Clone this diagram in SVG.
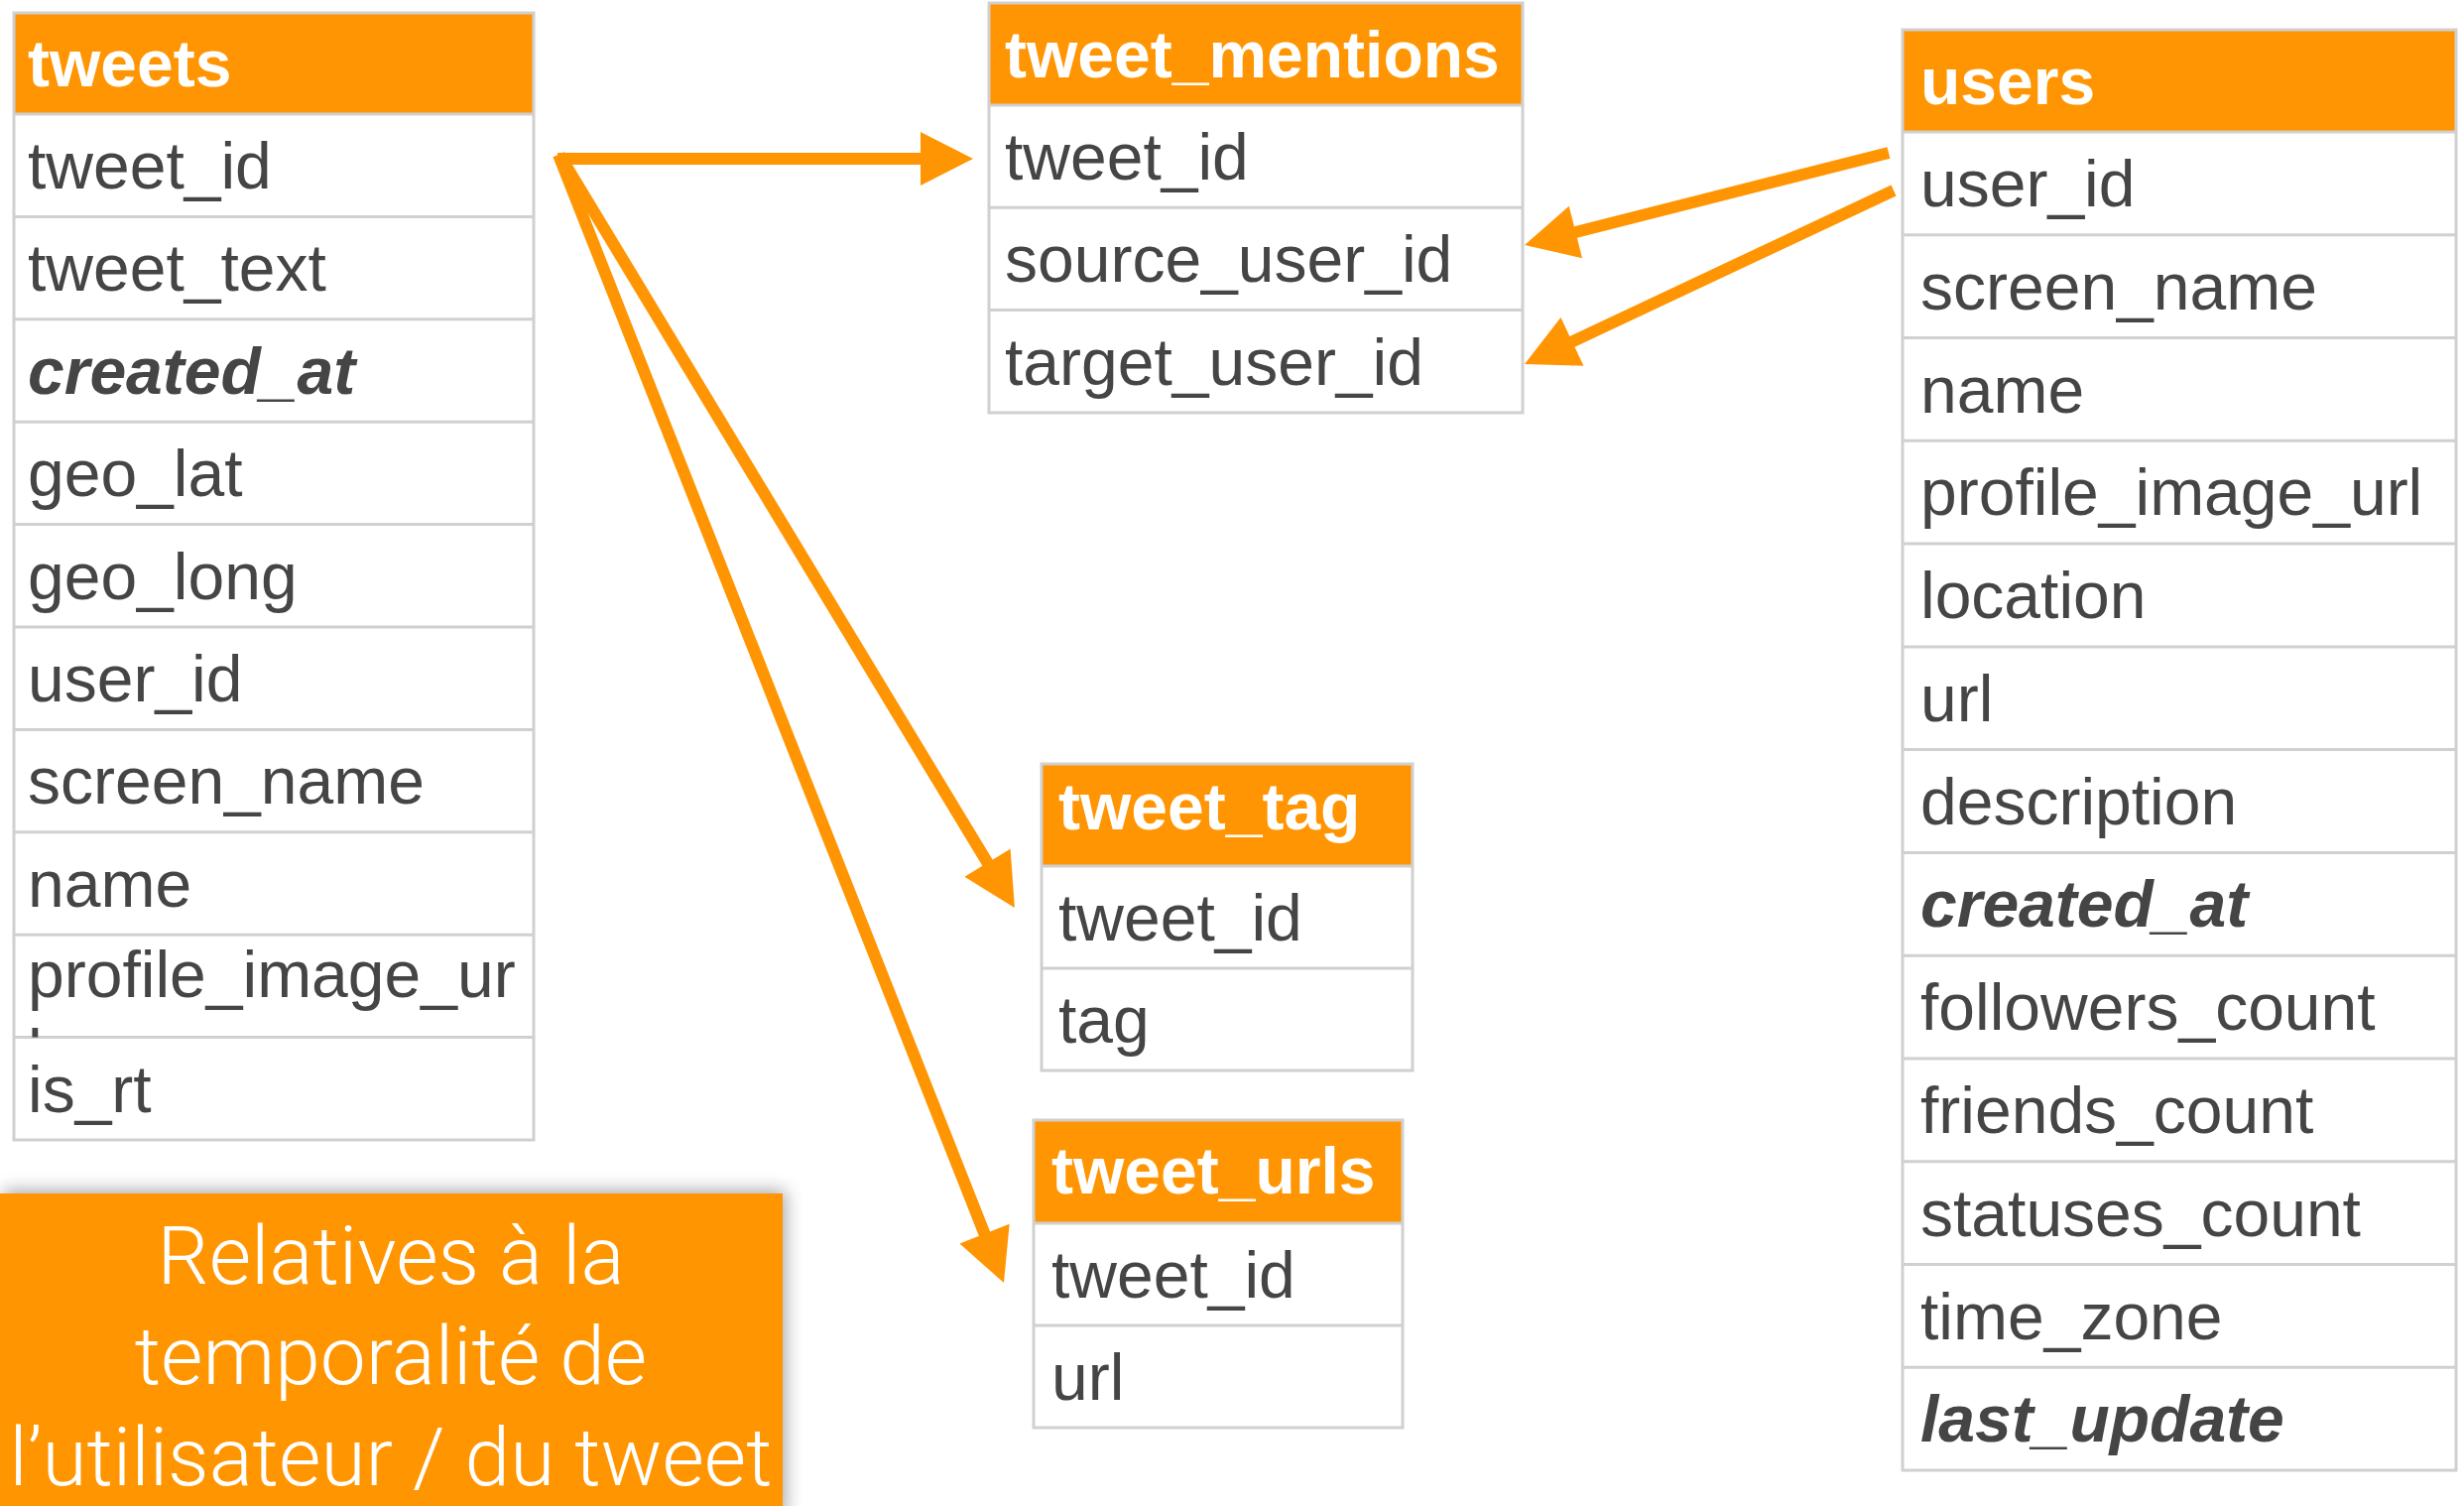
<svg xmlns="http://www.w3.org/2000/svg" width="2484" height="1518" viewBox="0 0 2484 1518">
<style>
.bg{fill:#ffffff}
.frame{fill:none;stroke:#d0d0d0;stroke-width:3}
.hdr{fill:#ff9502}
.sep{stroke:#d0d0d0;stroke-width:3}
.ht{font-family:"Liberation Sans",Arial,sans-serif;font-size:66px;font-weight:bold;fill:#ffffff}
.ft{font-family:"Liberation Sans",Arial,sans-serif;font-size:66px;fill:#454545}
.bi{font-weight:bold;font-style:italic}
.conn{stroke:#ff9502;stroke-width:12;fill:none;marker-end:url(#ah)}
.note{fill:#ff9502}
.nt{font-family:Roboto,"Liberation Sans",Arial,sans-serif;font-weight:300;font-size:82px;fill:#ffffff;text-anchor:middle}
</style>
<defs>
<marker id="ah" markerUnits="userSpaceOnUse" markerWidth="60" markerHeight="60" refX="7" refY="27" orient="auto" overflow="visible">
<path d="M0,0 L53,27 L0,54 Z" fill="#ff9502"/>
</marker>
<filter id="sh" x="-10%" y="-20%" width="120%" height="140%">
<feGaussianBlur in="SourceAlpha" stdDeviation="9"/>
<feOffset dx="3" dy="-3" result="b"/>
<feComponentTransfer><feFuncA type="linear" slope="0.35"/></feComponentTransfer>
<feMerge><feMergeNode/><feMergeNode in="SourceGraphic"/></feMerge>
</filter>
<clipPath id="clipPiu"><rect x="0" y="929" width="524" height="103.4"/></clipPath>
</defs>
<rect class="bg" x="0" y="0" width="2484" height="1518"/>

<g id="tweets" transform="translate(14,13)">
<rect class="bg" x="0" y="0" width="524" height="1136"/>
<rect class="hdr" x="0" y="0" width="524" height="102"/>
<text class="ht" x="14" y="74">tweets</text>
<line class="sep" x1="0" y1="102" x2="524" y2="102"/>
<line class="sep" x1="0" y1="205.4" x2="524" y2="205.4"/>
<line class="sep" x1="0" y1="308.8" x2="524" y2="308.8"/>
<line class="sep" x1="0" y1="412.2" x2="524" y2="412.2"/>
<line class="sep" x1="0" y1="515.6" x2="524" y2="515.6"/>
<line class="sep" x1="0" y1="619" x2="524" y2="619"/>
<line class="sep" x1="0" y1="722.4" x2="524" y2="722.4"/>
<line class="sep" x1="0" y1="825.8" x2="524" y2="825.8"/>
<line class="sep" x1="0" y1="929.2" x2="524" y2="929.2"/>
<line class="sep" x1="0" y1="1032.6" x2="524" y2="1032.6"/>
<text class="ft" x="14" y="177">tweet_id</text>
<text class="ft" x="14" y="280.4">tweet_text</text>
<text class="ft bi" x="14" y="383.8">created_at</text>
<text class="ft" x="14" y="487.2">geo_lat</text>
<text class="ft" x="14" y="590.6">geo_long</text>
<text class="ft" x="14" y="694">user_id</text>
<text class="ft" x="14" y="797.4">screen_name</text>
<text class="ft" x="14" y="900.8">name</text>
<text class="ft" x="14" y="992">profile_image_ur</text>
<text class="ft" x="14" y="1071" clip-path="url(#clipPiu)">l</text>
<text class="ft" x="14" y="1107.6">is_rt</text>
<rect class="frame" x="0" y="0" width="524" height="1136"/>
</g>

<g id="tweet_mentions" transform="translate(997,3)">
<rect class="bg" x="0" y="0" width="538" height="413"/>
<rect class="hdr" x="0" y="0" width="538" height="103"/>
<text class="ht" x="16" y="75">tweet_mentions</text>
<line class="sep" x1="0" y1="103" x2="538" y2="103"/>
<line class="sep" x1="0" y1="206.3" x2="538" y2="206.3"/>
<line class="sep" x1="0" y1="309.6" x2="538" y2="309.6"/>
<text class="ft" x="16" y="178">tweet_id</text>
<text class="ft" x="16" y="281.3">source_user_id</text>
<text class="ft" x="16" y="384.6">target_user_id</text>
<rect class="frame" x="0" y="0" width="538" height="413"/>
</g>

<g id="users" transform="translate(1918,30)">
<rect class="bg" x="0" y="0" width="558" height="1452"/>
<rect class="hdr" x="0" y="0" width="558" height="103"/>
<text class="ht" x="18" y="75">users</text>
<line class="sep" x1="0" y1="103" x2="558" y2="103"/>
<line class="sep" x1="0" y1="206.8" x2="558" y2="206.8"/>
<line class="sep" x1="0" y1="310.5" x2="558" y2="310.5"/>
<line class="sep" x1="0" y1="414.3" x2="558" y2="414.3"/>
<line class="sep" x1="0" y1="518.1" x2="558" y2="518.1"/>
<line class="sep" x1="0" y1="621.9" x2="558" y2="621.9"/>
<line class="sep" x1="0" y1="725.6" x2="558" y2="725.6"/>
<line class="sep" x1="0" y1="829.4" x2="558" y2="829.4"/>
<line class="sep" x1="0" y1="933.2" x2="558" y2="933.2"/>
<line class="sep" x1="0" y1="1036.9" x2="558" y2="1036.9"/>
<line class="sep" x1="0" y1="1140.7" x2="558" y2="1140.7"/>
<line class="sep" x1="0" y1="1244.5" x2="558" y2="1244.5"/>
<line class="sep" x1="0" y1="1348.2" x2="558" y2="1348.2"/>
<text class="ft" x="18" y="178">user_id</text>
<text class="ft" x="18" y="281.8">screen_name</text>
<text class="ft" x="18" y="385.5">name</text>
<text class="ft" x="18" y="489.3">profile_image_url</text>
<text class="ft" x="18" y="593.1">location</text>
<text class="ft" x="18" y="696.9">url</text>
<text class="ft" x="18" y="800.6">description</text>
<text class="ft bi" x="18" y="904.4">created_at</text>
<text class="ft" x="18" y="1008.2">followers_count</text>
<text class="ft" x="18" y="1111.9">friends_count</text>
<text class="ft" x="18" y="1215.7">statuses_count</text>
<text class="ft" x="18" y="1319.5">time_zone</text>
<text class="ft bi" x="18" y="1423.2">last_update</text>
<rect class="frame" x="0" y="0" width="558" height="1452"/>
</g>

<g id="tweet_tag" transform="translate(1050,770)">
<rect class="bg" x="0" y="0" width="374" height="309"/>
<rect class="hdr" x="0" y="0" width="374" height="103"/>
<text class="ht" x="17" y="66">tweet_tag</text>
<line class="sep" x1="0" y1="103" x2="374" y2="103"/>
<line class="sep" x1="0" y1="206" x2="374" y2="206"/>
<text class="ft" x="17" y="178">tweet_id</text>
<text class="ft" x="17" y="281">tag</text>
<rect class="frame" x="0" y="0" width="374" height="309"/>
</g>

<g id="tweet_urls" transform="translate(1042,1129)">
<rect class="bg" x="0" y="0" width="372" height="310"/>
<rect class="hdr" x="0" y="0" width="372" height="104"/>
<text class="ht" x="18" y="74">tweet_urls</text>
<line class="sep" x1="0" y1="104" x2="372" y2="104"/>
<line class="sep" x1="0" y1="207" x2="372" y2="207"/>
<text class="ft" x="18" y="179">tweet_id</text>
<text class="ft" x="18" y="282">url</text>
<rect class="frame" x="0" y="0" width="372" height="310"/>
</g>

<g id="note">
<rect class="note" x="0" y="1203" width="789" height="330" filter="url(#sh)"/>
<text class="nt" x="394" y="1294">Relatives à la</text>
<text class="nt" x="394" y="1395">temporalité de</text>
<text class="nt" x="394" y="1497">l’utilisateur / du tweet</text>
</g>

<g id="connectors">
<line class="conn" x1="562" y1="160" x2="935" y2="160"/>
<line class="conn" x1="564" y1="156" x2="999.1" y2="875.7"/>
<line class="conn" x1="563" y1="156" x2="995.1" y2="1250.2"/>
<line class="conn" x1="1904" y1="154" x2="1581.6" y2="235.7"/>
<line class="conn" x1="1909" y1="192" x2="1578.6" y2="347.4"/>
</g>
</svg>
